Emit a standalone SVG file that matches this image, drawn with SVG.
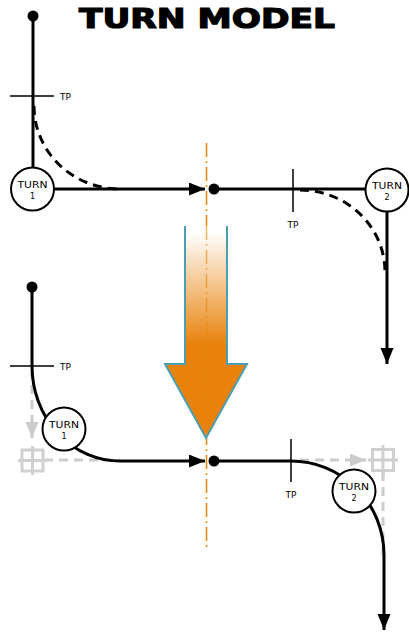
<svg xmlns="http://www.w3.org/2000/svg" width="409" height="632" viewBox="0 0 409 632">
<defs>
<style>
.ln{fill:none;stroke:#000;stroke-width:3}
.dash{fill:none;stroke:#000;stroke-width:3;stroke-dasharray:9,6}
.gdash{fill:none;stroke:#cccccc;stroke-width:3;stroke-dasharray:9,6}
.tp{fill:none;stroke:#000;stroke-width:1.5}
.circ{fill:#fff;stroke:#000;stroke-width:2}
.lbl{font-family:"DejaVu Sans",sans-serif;font-size:8px;fill:#000}
.tpl{font-family:"DejaVu Sans",sans-serif;font-size:9px;fill:#000}
.xh{fill:none;stroke:#d0d0d0;stroke-width:3}
.axis{fill:none;stroke:#e8830a;stroke-width:1.5;stroke-dasharray:14,4,2,4}
</style>
<marker id="ah" markerUnits="userSpaceOnUse" markerWidth="18" markerHeight="14" refX="16" refY="6.5" orient="auto">
<path d="M0,0 L16,6.5 L0,13 z" fill="#000"/>
</marker>
<marker id="gah" markerUnits="userSpaceOnUse" markerWidth="18" markerHeight="14" refX="16" refY="6.5" orient="auto">
<path d="M0,0 L16,6.5 L0,13 z" fill="#cccccc"/>
</marker>
<linearGradient id="grad" x1="0" y1="232" x2="0" y2="345" gradientUnits="userSpaceOnUse">
<stop offset="0" stop-color="#ffffff"/>
<stop offset="1" stop-color="#e8820a"/>
</linearGradient>
</defs>
<rect width="409" height="632" fill="#fff"/>

<text id="title" x="79" y="28" font-family="DejaVu Sans,sans-serif" font-weight="bold" font-size="26" stroke="#000" stroke-width="1.2" textLength="256" lengthAdjust="spacingAndGlyphs">TURN MODEL</text>

<g id="axis">
<line class="axis" x1="206.5" y1="143" x2="206.5" y2="548"/>
</g>

<g id="big-arrow">
<path d="M185,226 V364 H165 L206,438 L247,364 H227 V226 Z" fill="url(#grad)" stroke="none"/>
<path d="M185,226 V364 H165 L206,438 L247,364 H227 V226" fill="none" stroke="#4a9fb2" stroke-width="2"/>
<line class="axis" x1="206.5" y1="226" x2="206.5" y2="400" opacity="0.6"/>
</g>

<g id="connectors">
<path class="ln" d="M33,16 V168"/>
<path class="ln" d="M55,189 H205" marker-end="url(#ah)"/>
<path class="dash" d="M34,106 A86,83 0 0 0 120,189"/>
<path class="ln" d="M214,189 H366"/>
<path class="dash" d="M300,190 A85,82 0 0 1 385,272"/>
<path class="ln" d="M387,211 V364" marker-end="url(#ah)"/>
<path class="gdash" d="M32,370 V438" marker-end="url(#gah)"/>
<path class="gdash" d="M44,460 H120"/>
<path class="gdash" d="M300,460 H366" marker-end="url(#gah)"/>
<path class="gdash" d="M383,472 V560"/>
<path class="ln" d="M32,287 V366 A88,95 0 0 0 120,461 H205" marker-end="url(#ah)"/>
<path class="ln" d="M214,461 H291 A93,94 0 0 1 384,555 V630" marker-end="url(#ah)"/>
</g>

<g id="crosshair-1">
<rect class="xh" x="22" y="450" width="21" height="21"/>
<path class="xh" d="M32.5,446 V475 M18,460.5 H47"/>
</g>
<g id="crosshair-2">
<rect class="xh" x="372.5" y="449.5" width="21" height="21"/>
<path class="xh" d="M383,445 V477 M368,460 H398"/>
</g>

<g id="dots">
<circle cx="33" cy="16" r="5.5"/>
<circle cx="214" cy="189" r="5.5"/>
<circle cx="32" cy="287" r="5.5"/>
<circle cx="214" cy="461" r="5.5"/>
</g>

<g id="tp-1">
<path class="tp" d="M10,96 H54"/>
<text class="tpl" x="60" y="100">TP</text>
</g>
<g id="tp-2">
<path class="tp" d="M293,169 V212"/>
<text class="tpl" x="293" y="228" text-anchor="middle">TP</text>
</g>
<g id="tp-3">
<path class="tp" d="M10,366 H54"/>
<text class="tpl" x="60" y="370">TP</text>
</g>
<g id="tp-4">
<path class="tp" d="M291,439 V482"/>
<text class="tpl" x="291" y="498" text-anchor="middle">TP</text>
</g>

<g id="turn-1-top">
<circle class="circ" cx="32.5" cy="189" r="21.5"/>
<text class="lbl" x="32.5" y="188" text-anchor="middle" textLength="30" lengthAdjust="spacingAndGlyphs">TURN</text>
<text class="lbl" x="32.5" y="199" text-anchor="middle">1</text>
</g>
<g id="turn-2-top">
<circle class="circ" cx="387" cy="190" r="21.5"/>
<text class="lbl" x="387" y="189" text-anchor="middle" textLength="30" lengthAdjust="spacingAndGlyphs">TURN</text>
<text class="lbl" x="387" y="200" text-anchor="middle">2</text>
</g>
<g id="turn-1-bottom">
<circle class="circ" cx="64" cy="429" r="21.5"/>
<text class="lbl" x="64" y="428" text-anchor="middle" textLength="30" lengthAdjust="spacingAndGlyphs">TURN</text>
<text class="lbl" x="64" y="439" text-anchor="middle">1</text>
</g>
<g id="turn-2-bottom">
<circle class="circ" cx="354" cy="491" r="21.5"/>
<text class="lbl" x="354" y="490" text-anchor="middle" textLength="30" lengthAdjust="spacingAndGlyphs">TURN</text>
<text class="lbl" x="354" y="501" text-anchor="middle">2</text>
</g>
</svg>
